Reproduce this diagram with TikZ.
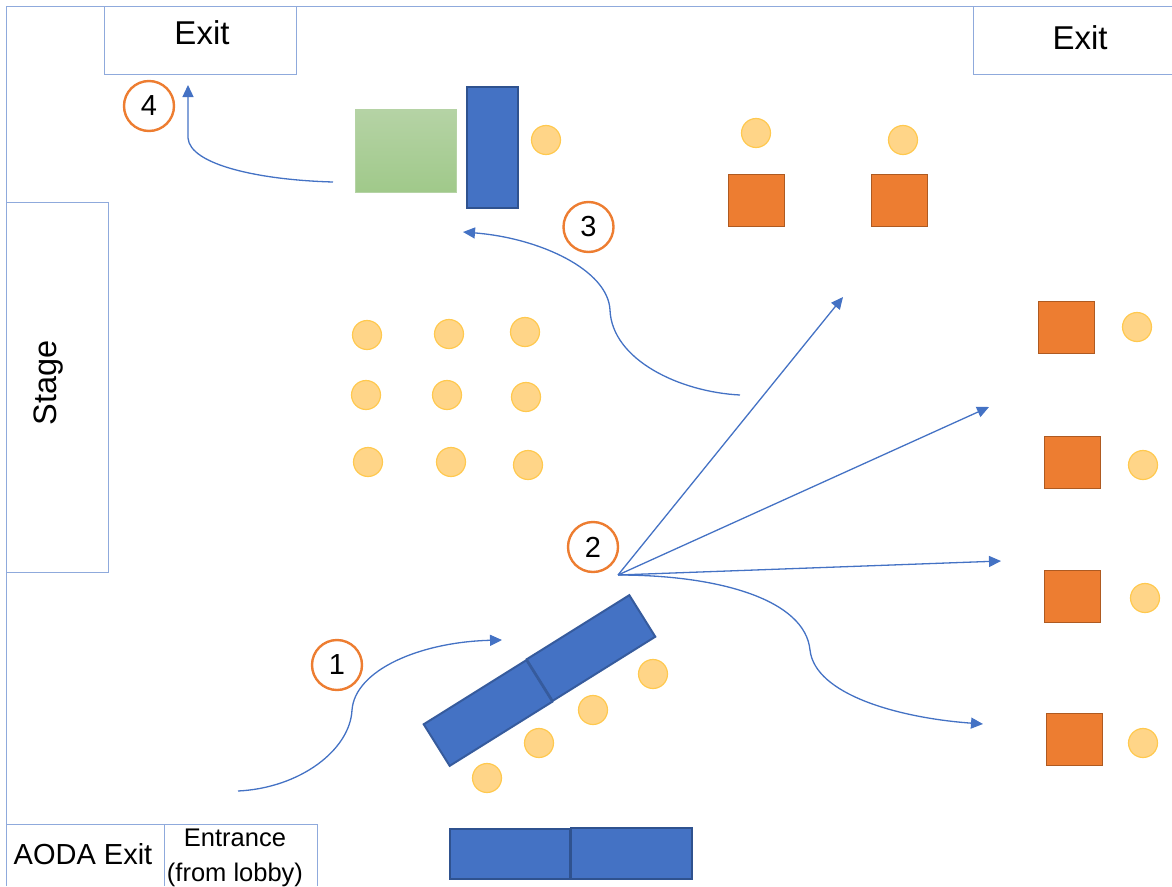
\documentclass[tikz,border=0pt]{standalone}
\usepackage{fontspec}
\setmainfont{Liberation Sans}
\usetikzlibrary{arrows.meta,positioning,calc}
\definecolor{wallline}{HTML}{8FAADC}
\definecolor{flowblue}{HTML}{4472C4}
\definecolor{tableedge}{HTML}{2F528F}
\definecolor{boothfill}{HTML}{ED7D31}
\definecolor{boothedge}{HTML}{AE5A21}
\definecolor{seatfill}{HTML}{FFD588}
\definecolor{seatedge}{HTML}{FFC94F}
\definecolor{greentop}{HTML}{B5D3A5}
\definecolor{greenbot}{HTML}{A0C98A}

\begin{document}
\begin{tikzpicture}[
  x=1pt, y=-1pt,
  wall/.style={draw=wallline, line width=0.8pt},
  room/.style={rectangle, draw=wallline, line width=0.8pt, align=center, inner sep=0pt},
  tablebox/.style={rectangle, draw=tableedge, line width=2pt, fill=flowblue, inner sep=0pt},
  booth/.style={rectangle, draw=boothedge, line width=1.6pt, fill=boothfill, inner sep=0pt, minimum width=56pt, minimum height=52pt},
  seat/.style={circle, draw=seatedge, line width=1.2pt, fill=seatfill, inner sep=0pt, minimum size=29pt},
  stepnum/.style={circle, draw=boothfill, line width=2.4pt, fill=white, inner sep=0pt, minimum size=50pt, font=\fontsize{29}{29}\selectfont},
  flow/.style={draw=flowblue, line width=1.3pt, -{Triangle[length=12pt, width=11pt]}}
]
\useasboundingbox (0,0) rectangle (1172,886);

% Walls
\coordinate (WALL_BL) at (6,886);
\coordinate (WALL_TL) at (6,6);
\coordinate (WALL_TR) at (1172,6);
\draw[wall] (WALL_BL) -- (WALL_TL) -- (WALL_TR);

% Rooms
\node[room, minimum width=192pt, minimum height=68pt] (EXIT_L) at (200,40) {};
\node[font=\fontsize{33}{33}\selectfont] (EXIT_L_TXT) at (202,33) {Exit};
\coordinate (EXIT_R_T) at (973,6);
\coordinate (EXIT_R_B) at (973,74);
\coordinate (EXIT_R_E) at (1172,74);
\draw[wall] (EXIT_R_T) -- (EXIT_R_B) -- (EXIT_R_E);
\node[font=\fontsize{33}{33}\selectfont] (EXIT_R_TXT) at (1080,38) {Exit};
\node[room, minimum width=102pt, minimum height=370pt] (STAGE) at (57,387) {};
\node[rotate=90, font=\fontsize{32.5}{32}\selectfont] (STAGE_TXT) at (49,383) {Stage};

\coordinate (AODA_TL) at (6,824);
\coordinate (AODA_TR) at (317,824);
\coordinate (AODA_BR) at (317,886);
\coordinate (AODA_M) at (164,824);
\coordinate (AODA_MB) at (164,886);
\draw[wall] (AODA_TL) -- (AODA_TR) -- (AODA_BR);
\draw[wall] (AODA_M) -- (AODA_MB);
\node[font=\fontsize{29}{29}\selectfont] (AODA) at (83,854) {AODA Exit};
\node[font=\fontsize{25.5}{35}\selectfont, align=center] (ENTR) at (235,858) {Entrance\\(from lobby)};

% Tables
\node[rectangle, draw=greentop, line width=0.8pt, top color=greentop, bottom color=greenbot, inner sep=0pt, minimum width=101pt, minimum height=83pt] (GREEN) at (406,151) {};
\node[tablebox, minimum width=51pt, minimum height=121pt] (TABLE_TOP) at (492,147) {};
\node[tablebox, draw=flowblue!80!black, rotate=32, minimum width=121pt, minimum height=49pt] (TABLE_A) at (488,713) {};
\node[tablebox, draw=flowblue!80!black, rotate=32, minimum width=121pt, minimum height=49pt] (TABLE_B) at (591,648) {};
\node[tablebox, minimum width=120pt, minimum height=50pt] (TABLE_C) at (509.5,853.5) {};
\node[tablebox, minimum width=121pt, minimum height=51pt] (TABLE_D) at (631,853) {};

% Booths
\node[booth] (B1) at (756.5,200.5) {};
\node[booth] (B2) at (899.5,200.5) {};
\node[booth] (B3) at (1066.5,327.5) {};
\node[booth] (B4) at (1072.5,462.5) {};
\node[booth] (B5) at (1072.5,596.5) {};
\node[booth] (B6) at (1074.5,739.5) {};

% Seats
\node[seat] (S1) at (546,140) {};
\node[seat] (S2) at (756,133) {};
\node[seat] (S3) at (903,140) {};
\node[seat] (S4) at (1137,327) {};
\node[seat] (S5) at (1143,465) {};
\node[seat] (S6) at (1145,598) {};
\node[seat] (S7) at (1143,743) {};
\node[seat] (S8) at (653,674) {};
\node[seat] (S9) at (593,710) {};
\node[seat] (S10) at (539,743) {};
\node[seat] (S11) at (487,778) {};
\node[seat] (G1) at (367,335) {};
\node[seat] (G2) at (449,334) {};
\node[seat] (G3) at (525,332) {};
\node[seat] (G4) at (366,395) {};
\node[seat] (G5) at (447,395) {};
\node[seat] (G6) at (526,397) {};
\node[seat] (G7) at (368,462) {};
\node[seat] (G8) at (451,462) {};
\node[seat] (G9) at (528,465) {};

% Steps
\node[stepnum] (N1) at (337,665) {1};
\node[stepnum] (N2) at (593,547) {2};
\node[stepnum] (N3) at (588.5,227) {3};
\node[stepnum] (N4) at (149,106) {4};

% Flow ends
\coordinate (F1S) at (238,791);
\coordinate (F1E) at (502,640);
\coordinate (FAN) at (618,575);
\coordinate (FAN1) at (843,297);
\coordinate (FAN2) at (989,407);
\coordinate (FAN3) at (1001,561);
\coordinate (FAN4) at (983,724);
\coordinate (F3S) at (740,395);
\coordinate (F3E) at (463,232);
\coordinate (F4S) at (333,182);
\coordinate (F4E) at (188,85);

% Edges
\draw[flow] (F1S) .. controls (300,788) and (350,750) .. (352,710) .. controls (355,670) and (420,642) .. (F1E);
\draw[flow] (FAN) -- (FAN1);
\draw[flow] (FAN) -- (FAN2);
\draw[flow] (FAN) -- (FAN3);
\draw[flow] (FAN) .. controls (720,575) and (805,600) .. (810,650) .. controls (815,695) and (900,718) .. (FAN4);
\draw[flow] (F3S) .. controls (680,392) and (612,360) .. (610,310) .. controls (608,270) and (540,238) .. (F3E);
\draw[flow] (F4S) .. controls (260,180) and (190,165) .. (188,138) -- (F4E);
\end{tikzpicture}
\end{document}
